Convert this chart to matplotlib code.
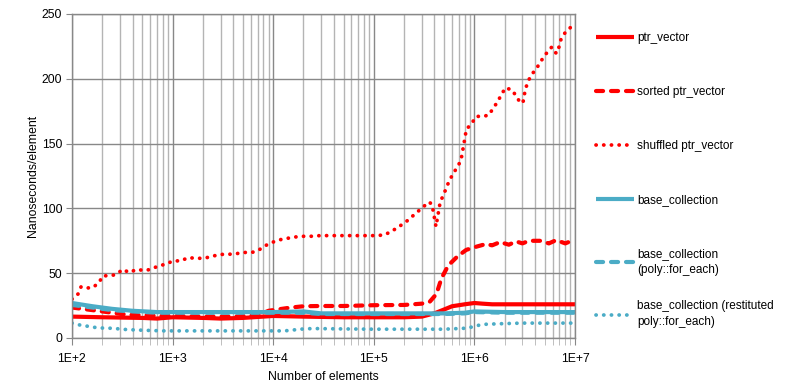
import matplotlib
matplotlib.use("Agg")
import matplotlib.pyplot as plt
from matplotlib.ticker import FuncFormatter, LogLocator, NullFormatter
import numpy as np

plt.rcParams['font.family'] = ['Liberation Sans', 'DejaVu Sans']

RED = '#ff0000'
TEAL = '#4bacc6'

# ptr_vector (solid red)
ptr_x = [100, 200, 500, 700, 1000, 2000, 3000, 5000, 1e4, 2e4, 5e4, 1e5, 2e5, 3e5,
         4e5, 5e5, 6e5, 8e5, 1e6, 1.2e6, 1.5e6, 2e6, 5e6, 1e7]
ptr_y = [16.5, 16, 15.5, 15, 16, 15.5, 15, 15.5, 17, 16.5, 16, 16, 16, 16.5,
         19, 22, 24.5, 26, 27, 26.5, 26, 26, 26, 26]

# sorted ptr_vector (dashed red)
sorted_x = [100, 160, 250, 350, 500, 800, 1000, 2000, 4000, 7000, 9000, 1.1e4, 1.5e4,
            2e4, 3e4, 5e4, 1e5, 2e5, 3e5, 3.6e5, 4.2e5, 4.7e5, 5.5e5, 6.8e5, 8.3e5,
            1.05e6, 1.3e6, 1.5e6, 1.8e6, 2.2e6, 2.6e6, 3e6, 3.5e6, 4.5e6, 5.5e6,
            6.5e6, 8e6, 1e7]
sorted_y = [23.5, 21.5, 19.5, 18, 17.5, 17, 17, 16.5, 16.5, 17.5, 21, 22, 23.5,
            24.5, 24.7, 24.7, 25.3, 25.5, 26.5, 28, 34, 46, 56, 63, 68,
            70.5, 72.5, 71.5, 74, 72, 74.5, 73, 75, 75, 73,
            75.5, 73, 76]

# shuffled ptr_vector (dotted red)
shuf_x = [100, 115, 123, 138, 162, 186, 203, 239, 274, 321, 369, 443, 520, 610, 716,
          860, 1010, 1212, 1422, 1709, 2051, 2464, 2960, 3475, 4266, 5008, 6154,
          7228, 8480, 9950, 11960, 14030, 16860, 20240, 24320, 29180, 35070, 50000,
          70000, 105000, 126200, 148300, 174100, 204300, 234300, 268700, 308300,
          354000, 379000, 415000, 455000, 488000, 522000, 559000, 612000, 671000,
          736000, 758000, 783000, 807000, 832000, 940000, 1.04e6, 1.22e6, 1.39e6,
          1.53e6, 1.69e6, 1.85e6, 2.03e6, 2.36e6, 2.61e6, 2.86e6, 3.04e6, 3.13e6,
          3.26e6, 3.49e6, 3.82e6, 4.26e6, 4.67e6, 5.18e6, 5.87e6, 6.52e6, 6.93e6,
          7.26e6, 7.96e6, 9.13e6, 1e7]
shuf_y = [30, 34, 39.5, 38.5, 39, 43, 48, 48, 49, 53, 50.5, 53, 52, 53, 55.5,
          57, 59.5, 59.5, 62, 61.5, 61.5, 63, 64.5, 64.5, 65, 66, 66,
          68, 71.5, 74, 76, 77, 78, 78.5, 78.5, 79, 79, 79,
          79, 79, 79.5, 82, 85.5, 89, 93, 97, 101,
          105, 103, 86, 104, 110, 115, 121, 126.5, 131.5,
          137, 143, 149, 155, 161, 165.5, 171, 171, 172,
          177, 182, 187.5, 193, 191.5, 186.5, 181.5, 181.5, 187.5,
          193.5, 199.5, 204.5, 209.5, 214.5, 219.5, 224.5, 219.5, 224.5,
          230.5, 235.5, 240, 241]

# base_collection (solid teal)
base_x = [100, 160, 250, 400, 700, 1000, 3000, 1e4, 2e4, 3e4, 1e5, 3e5, 5e5,
          8e5, 1e6, 2e6, 5e6, 1e7]
base_y = [27, 24.5, 22.5, 21, 20, 20, 20, 20, 20.5, 19, 19, 19, 19,
          19.5, 20.5, 20, 20, 20]

# base_collection (poly::for_each) (dashed teal)
poly_x = [100, 160, 250, 400, 700, 1000, 3000, 1e4, 2e4, 3e4, 1e5, 3e5, 5e5,
          8e5, 1e6, 2e6, 5e6, 1e7]
poly_y = [25.5, 23.5, 21.5, 20.5, 19.5, 19.5, 19.5, 19.5, 19.5, 18.5, 18.5, 18.5, 18.5,
          19, 20, 19.5, 19.5, 19.5]

# base_collection (restituted poly::for_each) (dotted teal)
rest_x = [100, 120, 145, 175, 200, 250, 350, 500, 800, 1e4, 1.3e4, 1.5e4, 2e4, 2.5e4,
          5e4, 1e5, 5e5, 8e5, 9.5e5, 1.1e6, 1.3e6, 1.8e6, 3e6, 1e7]
rest_y = [11.5, 10, 9, 8, 7.7, 7.5, 6.5, 6, 5.5, 5.5, 5.5, 6, 7, 7.3,
          7, 6.8, 6.8, 7.5, 8.5, 9.8, 10.6, 11, 11.5, 11.5]

fig = plt.figure(figsize=(7.95, 3.9), dpi=100)
ax = fig.add_axes([72 / 795, 1 - 338 / 390, (575 - 72) / 795, (338 - 14) / 390])

dash = (0, (1.7, 1.9))
dots = (0, (0.05, 2.0))

ax.plot(ptr_x, ptr_y, color=RED, lw=3, solid_capstyle='butt', label='ptr_vector')
ax.plot(sorted_x, sorted_y, color=RED, lw=3, linestyle=dash, dash_capstyle='round',
        label='sorted ptr_vector')
ax.plot(shuf_x, shuf_y, color=RED, lw=2.7, linestyle=dots, dash_capstyle='round',
        label='shuffled ptr_vector')
ax.plot(base_x, base_y, color=TEAL, lw=3, solid_capstyle='butt', label='base_collection')
ax.plot(poly_x, poly_y, color=TEAL, lw=3, linestyle=dash, dash_capstyle='round',
        label='base_collection\n(poly::for_each)')
ax.plot(rest_x, rest_y, color=TEAL, lw=2.7, linestyle=dots, dash_capstyle='round',
        label='base_collection (restituted\npoly::for_each)')

ax.set_xscale('log')
ax.set_xlim(100, 1e7)
ax.set_ylim(0, 250)
ax.set_yticks([0, 50, 100, 150, 200, 250])
ax.xaxis.set_major_locator(LogLocator(base=10, numticks=10))
ax.xaxis.set_minor_locator(LogLocator(base=10, subs=np.arange(2, 10), numticks=20))
ax.xaxis.set_minor_formatter(NullFormatter())
ax.xaxis.set_major_formatter(FuncFormatter(lambda v, p: f"1E+{int(round(np.log10(v)))}"))

ax.grid(which='major', color='#888888', lw=1)
ax.grid(which='minor', axis='x', color='#b4b4b4', lw=1)
ax.set_axisbelow(True)
for s in ax.spines.values():
    s.set_color('#888888')
    s.set_linewidth(1)

ax.tick_params(axis='both', which='major', labelsize=8.8, length=4, color='#888888',
               labelcolor='black', pad=3)
ax.tick_params(axis='x', which='major', length=5, pad=6)
ax.tick_params(axis='x', which='minor', length=5, color='#b4b4b4')

ax.set_xlabel('Number of elements', fontsize=8.8, labelpad=4)
ax.set_ylabel('Nanoseconds/element', fontsize=8.8, labelpad=2)

handles, labels = ax.get_legend_handles_labels()
leg_kw = dict(loc='upper left', frameon=False, fontsize=8.5, handlelength=3.2,
              handletextpad=0.3, labelspacing=3.55, borderpad=0, borderaxespad=0)
leg1 = fig.legend(handles[:5], labels[:5], bbox_to_anchor=(596 / 795, 1 - 32 / 390), **leg_kw)
for t in leg1.get_texts():
    t.set_linespacing(1.5)
leg2 = fig.legend(handles[5:], labels[5:], bbox_to_anchor=(596 / 795, 1 - 300 / 390), **leg_kw)
for t in leg2.get_texts():
    t.set_linespacing(1.5)

fig.savefig('out.png', dpi=100)
